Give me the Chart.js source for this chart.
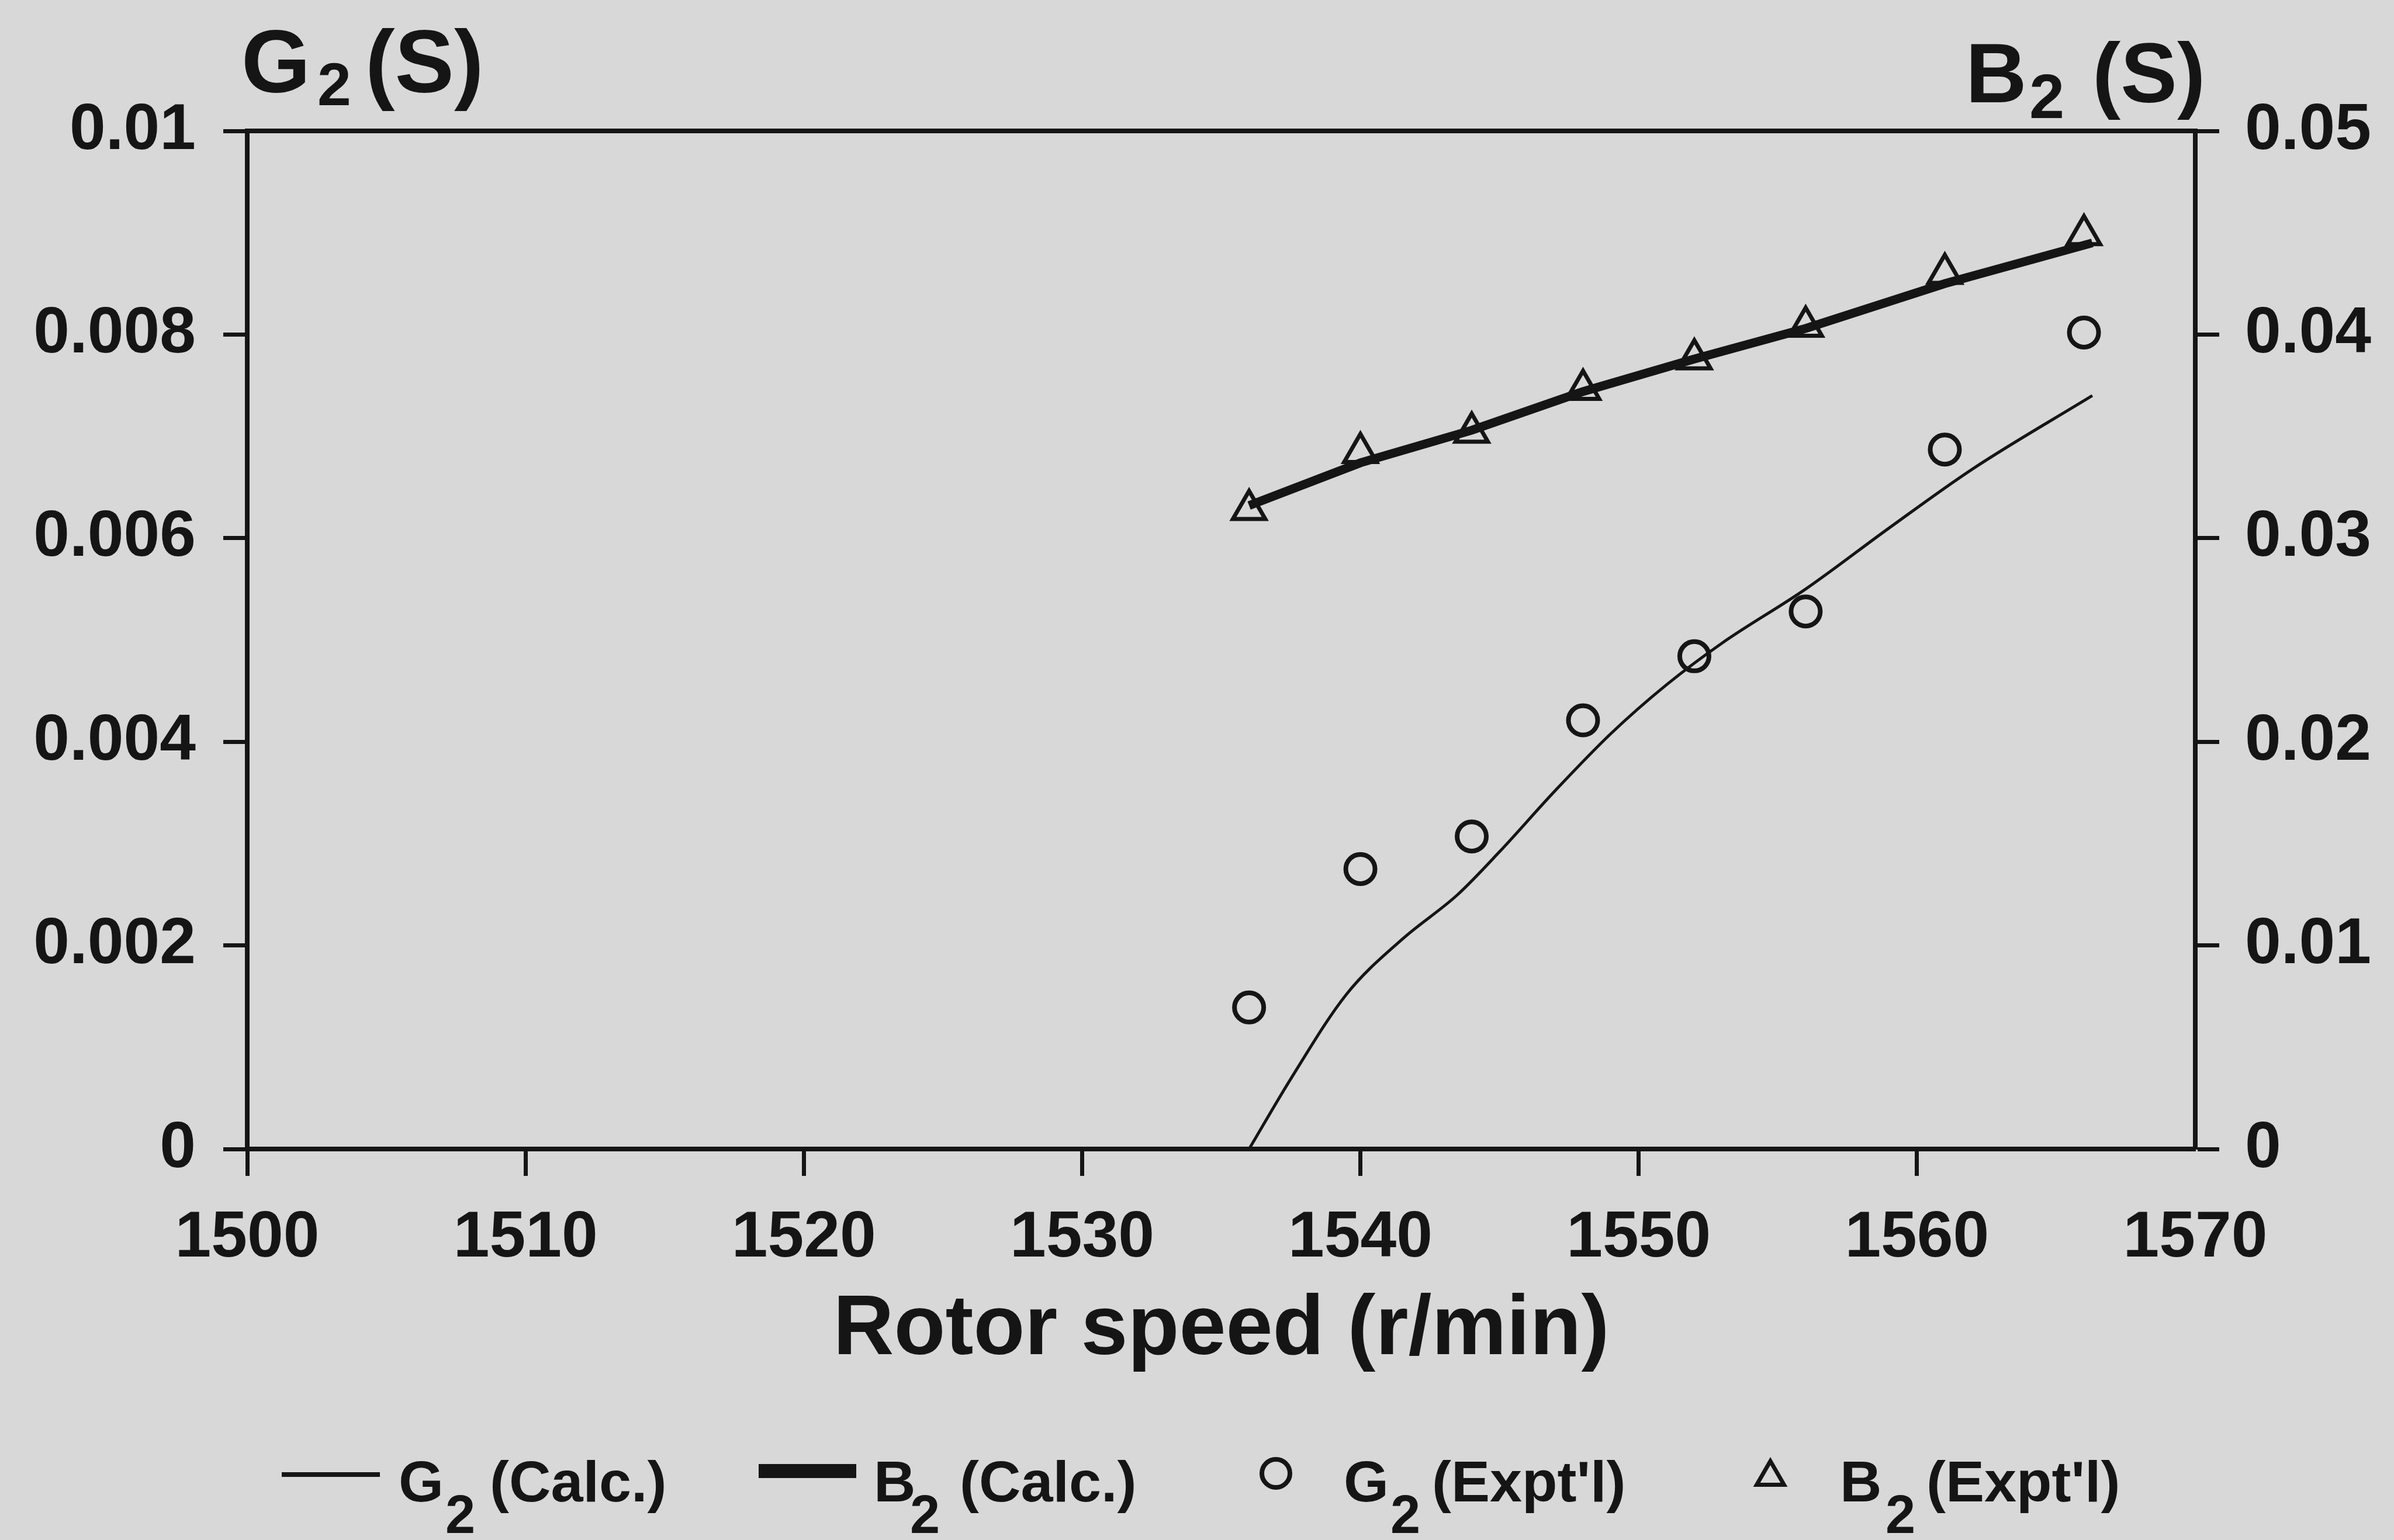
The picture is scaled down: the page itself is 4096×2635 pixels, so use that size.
<!DOCTYPE html>
<html>
<head>
<meta charset="utf-8">
<script src="https://cdn.jsdelivr.net/npm/chart.js@4.4.1/dist/chart.umd.min.js"></script>
<style>
  html, body { margin: 0; padding: 0; background: #d8d8d8; }
  #wrap { width: 4096px; height: 2635px; }
</style>
</head>
<body>
<div id="wrap"><canvas id="myChart" width="4096" height="2635"></canvas></div>
<script>
// tick values
const speedTicks = [1500, 1510, 1520, 1530, 1540, 1550, 1560, 1570];
const g2Ticks = [0, 0.002, 0.004, 0.006, 0.008, 0.01];
const b2Ticks = [0, 0.01, 0.02, 0.03, 0.04, 0.05];

// measured points
const exptSpeed = [1536, 1540, 1544, 1548, 1552, 1556, 1561, 1566];
const g2Expt = [0.00139, 0.00275, 0.00307, 0.00421, 0.00484, 0.00528, 0.00687, 0.00802];
const b2Expt = [0.0314, 0.0342, 0.0352, 0.0373, 0.0388, 0.0404, 0.0430, 0.0449];

// calculated curves
const g2CalcSpeed = [1536, 1537.5, 1539.5, 1541.5, 1543.5, 1545, 1547, 1549, 1551, 1553, 1556, 1559, 1562, 1566.3];
const g2Calc = [0, 0.00069, 0.00152, 0.00206, 0.0025, 0.00292, 0.00352, 0.00408, 0.00456, 0.00497, 0.0055, 0.0061, 0.00668, 0.0074];
const b2CalcSpeed = [1536, 1540, 1544, 1548, 1552, 1556, 1561, 1566.3];
const b2Calc = [0.0316, 0.0337, 0.0353, 0.0372, 0.0388, 0.0403, 0.0425, 0.0445];

const ink = '#151515';
const family = '"Liberation Sans", Arial, sans-serif';

function toXY(xs, ys) {
  return xs.map((x, i) => ({ x: x, y: ys[i] }));
}

function fmt(v) {
  return Number(v.toFixed(4)).toString();
}

// text with a lowered "2", pieces placed at given x
function drawSub(ctx, xs, base, parts, size, subSize, drop) {
  ctx.textAlign = 'left';
  ctx.textBaseline = 'alphabetic';
  ctx.font = `bold ${size}px ${family}`;
  ctx.fillText(parts[0], xs[0], base);
  ctx.font = `bold ${subSize}px ${family}`;
  ctx.fillText(parts[1], xs[1], base + drop);
  ctx.font = `bold ${size}px ${family}`;
  ctx.fillText(parts[2], xs[2], base);
}

const textPlugin = {
  id: 'subLabels',
  afterDraw(chart) {
    const ctx = chart.ctx;
    ctx.save();
    ctx.fillStyle = ink;
    ctx.strokeStyle = ink;

    // axis headings
    drawSub(ctx, [413, 543, 625], 158, ['G', '2', '(S)'], 152, 104, 22);
    drawSub(ctx, [3363, 3472, 3580], 175, ['B', '2', '(S)'], 145, 108, 27);

    // legend
    const ds = chart.data.datasets;
    ctx.lineCap = 'butt';
    ctx.lineWidth = 8;
    ctx.beginPath(); ctx.moveTo(482, 2523); ctx.lineTo(650, 2523); ctx.stroke();
    drawSub(ctx, [682, 762, 838], 2569, ds[0].label.split('|'), 99, 92, 54);

    ctx.lineWidth = 24;
    ctx.beginPath(); ctx.moveTo(1298, 2517); ctx.lineTo(1465, 2517); ctx.stroke();
    drawSub(ctx, [1495, 1557, 1642], 2569, ds[1].label.split('|'), 99, 92, 54);

    ctx.lineWidth = 8;
    ctx.beginPath(); ctx.arc(2183, 2521, 24, 0, Math.PI * 2); ctx.stroke();
    drawSub(ctx, [2299, 2379, 2450], 2569, ds[2].label.split('|'), 99, 92, 54);

    ctx.lineWidth = 7;
    const r = 27, cx = 3029, cy = 2527;
    ctx.beginPath();
    for (let k = 0; k < 3; k++) {
      const a = k * 2 * Math.PI / 3;
      const px = cx + Math.sin(a) * r, py = cy - Math.cos(a) * r;
      if (k === 0) ctx.moveTo(px, py); else ctx.lineTo(px, py);
    }
    ctx.closePath(); ctx.stroke();
    drawSub(ctx, [3148, 3226, 3296], 2569, ds[3].label.split('|'), 99, 92, 54);

    ctx.restore();
  }
};

const tickFont = { family: family, size: 111, weight: 'bold' };

new Chart(document.getElementById('myChart'), {
  type: 'scatter',
  data: {
    datasets: [
      {
        label: 'G|2|(Calc.)',
        data: toXY(g2CalcSpeed, g2Calc),
        yAxisID: 'y',
        showLine: true,
        borderColor: ink,
        borderWidth: 5,
        pointRadius: 0,
        cubicInterpolationMode: 'monotone',
        fill: false
      },
      {
        label: 'B|2|(Calc.)',
        data: toXY(b2CalcSpeed, b2Calc),
        yAxisID: 'y2',
        showLine: true,
        borderColor: ink,
        borderWidth: 15,
        pointRadius: 0,
        fill: false
      },
      {
        label: "G|2|(Expt'l)",
        data: toXY(exptSpeed, g2Expt),
        yAxisID: 'y',
        pointStyle: 'circle',
        pointRadius: 25,
        pointHoverRadius: 25,
        borderWidth: 8,
        borderColor: ink,
        backgroundColor: 'rgba(0,0,0,0)'
      },
      {
        label: "B|2|(Expt'l)",
        data: toXY(exptSpeed, b2Expt),
        yAxisID: 'y2',
        pointStyle: 'triangle',
        pointRadius: 32,
        pointHoverRadius: 32,
        borderWidth: 7,
        borderColor: ink,
        backgroundColor: 'rgba(0,0,0,0)'
      }
    ]
  },
  options: {
    responsive: false,
    animation: false,
    devicePixelRatio: 1,
    layout: { padding: 0 },
    plugins: {
      legend: { display: false },
      tooltip: { enabled: false }
    },
    scales: {
      x: {
        type: 'linear',
        position: 'bottom',
        min: 1500,
        max: 1570,
        afterBuildTicks: (s) => { s.ticks = speedTicks.map(v => ({ value: v })); },
        afterFit: (s) => { s.height = 669; },
        grid: {
          drawOnChartArea: false,
          tickLength: 46,
          tickWidth: 7,
          tickColor: (c) => (c.tick && c.tick.value === 1570) ? 'rgba(0,0,0,0)' : ink
        },
        border: { display: true, color: ink, width: 8 },
        ticks: {
          color: ink, font: tickFont, padding: 41, maxRotation: 0, autoSkip: false,
          callback: (v) => String(v)
        },
        title: {
          display: true,
          text: 'Rotor speed (r/min)',
          color: ink,
          font: { family: family, size: 144, weight: 'bold' },
          padding: { top: 0, bottom: 271 }
        }
      },
      xTop: {
        type: 'linear',
        position: 'top',
        min: 1500,
        max: 1570,
        afterFit: (s) => { s.height = 224; },
        grid: { display: false },
        ticks: { display: false },
        border: { display: true, color: ink, width: 8 }
      },
      y: {
        type: 'linear',
        position: 'left',
        min: 0,
        max: 0.01,
        afterBuildTicks: (s) => { s.ticks = g2Ticks.map(v => ({ value: v })); },
        afterFit: (s) => { s.width = 423; },
        grid: { drawOnChartArea: false, tickLength: 41, tickWidth: 7, tickColor: ink },
        border: { display: true, color: ink, width: 8 },
        ticks: { color: ink, font: tickFont, padding: 47, callback: (v) => fmt(v) }
      },
      y2: {
        type: 'linear',
        position: 'right',
        min: 0,
        max: 0.05,
        afterBuildTicks: (s) => { s.ticks = b2Ticks.map(v => ({ value: v })); },
        afterFit: (s) => { s.width = 340; },
        grid: { drawOnChartArea: false, tickLength: 41, tickWidth: 7, tickColor: ink },
        border: { display: true, color: ink, width: 8 },
        ticks: { color: ink, font: tickFont, padding: 44, callback: (v) => fmt(v) }
      }
    }
  },
  plugins: [textPlugin]
});
</script>
</body>
</html>
